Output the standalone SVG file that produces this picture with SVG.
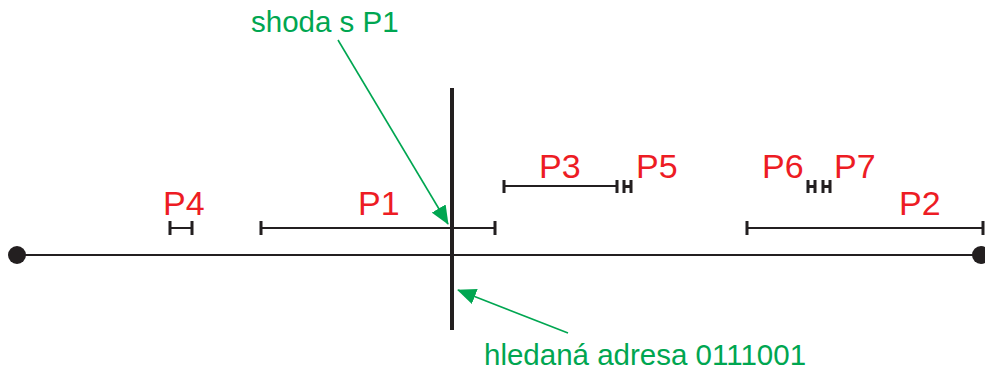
<svg xmlns="http://www.w3.org/2000/svg" width="985" height="370" viewBox="0 0 985 370">
<style>
.seg{stroke:#231f20;stroke-width:2;fill:none}
.tick{stroke:#231f20;stroke-width:3;fill:none}
.lbl{font-family:"Liberation Sans",Arial,sans-serif;font-size:34px;fill:#ed1c24}
.note{font-family:"Liberation Sans",Arial,sans-serif;font-size:29.5px;fill:#00a651}
.arr{stroke:#00a651;stroke-width:1.6;fill:none}
</style>
<defs>
<marker id="ah" markerWidth="20" markerHeight="16" refX="18" refY="8" orient="auto" markerUnits="userSpaceOnUse">
<path d="M0,0 L19,8 L0,16 Z" fill="#00a651"/>
</marker>
</defs>
<g id="axis">
<line x1="17" y1="255" x2="981" y2="255" class="seg"/>
<circle cx="17" cy="255" r="9" fill="#231f20"/>
<circle cx="981" cy="255" r="9" fill="#231f20"/>
</g>
<g id="search">
<line x1="452" y1="88" x2="452" y2="330" stroke="#231f20" stroke-width="4"/>
</g>
<g id="P4">
<path class="seg" d="M170,228 H192"/>
<path class="tick" d="M170,221 V235 M192,221 V235"/>
<text class="lbl" x="163" y="215">P4</text>
</g>
<g id="P1">
<path class="seg" d="M261,228 H495"/>
<path class="tick" d="M261,221 V235 M495,221 V235"/>
<text class="lbl" x="358" y="215">P1</text>
</g>
<g id="P3">
<path class="seg" d="M504,186 H617"/>
<path class="tick" d="M504,180 V193 M617,180 V193"/>
<text class="lbl" x="539" y="178">P3</text>
</g>
<g id="P5">
<path class="tick" d="M624,180 V193 M631,180 V193 M624,186.5 H631"/>
<text class="lbl" x="636" y="178">P5</text>
</g>
<g id="P6">
<path class="tick" d="M808,180 V193 M815,180 V193 M808,186.5 H815"/>
<text class="lbl" x="762" y="178">P6</text>
</g>
<g id="P7">
<path class="tick" d="M823,180 V193 M830,180 V193 M823,186.5 H830"/>
<text class="lbl" x="834" y="178">P7</text>
</g>
<g id="P2">
<path class="seg" d="M747,228 H983"/>
<path class="tick" d="M747,221 V235 M983,221 V235"/>
<text class="lbl" x="899" y="215">P2</text>
</g>
<g id="notes">
<text class="note" x="251" y="32">shoda s P1</text>
<text class="note" x="484" y="365">hledaná adresa 0111001</text>
</g>
<g id="connectors">
<line class="arr" x1="338" y1="40" x2="448" y2="224" marker-end="url(#ah)"/>
<line class="arr" x1="568" y1="333" x2="458" y2="290" marker-end="url(#ah)"/>
</g>
</svg>
